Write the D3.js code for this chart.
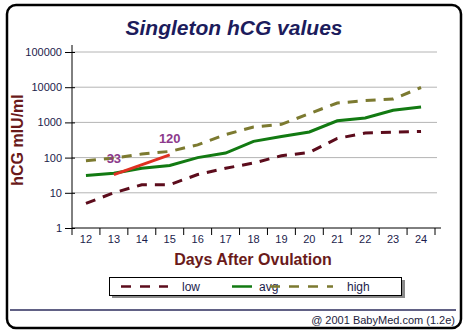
<!DOCTYPE html>
<html>
<head>
<meta charset="utf-8">
<script src="https://cdn.jsdelivr.net/npm/d3@7"></script>
<style>
  body { margin: 0; background: #fff; }
  svg { display: block; font-family: "Liberation Sans", Arial, sans-serif; }
</style>
</head>
<body>
<div id="chart"></div>
<script>
const days = [12, 13, 14, 15, 16, 17, 18, 19, 20, 21, 22, 23, 24];
const low  = [5, 10, 17, 17, 33, 50, 70, 113, 140, 350, 500, 530, 550];
const avg  = [31, 36, 50, 60, 100, 135, 290, 400, 535, 1110, 1330, 2200, 2750];
const high = [81, 97, 126, 150, 230, 450, 740, 880, 1780, 3550, 4150, 4600, 9800];
const userDays = [13, 15];
const userValues = [33, 120];
const yTicks = [1, 10, 100, 1000, 10000, 100000];

const W = 466, H = 333;
const plot = { left: 72, right: 435, top: 52, bottom: 228 };

const svg = d3.select("#chart").append("svg")
    .attr("width", W)
    .attr("height", H);

// outer frame
svg.append("rect")
    .attr("x", 7).attr("y", 5)
    .attr("width", 454).attr("height", 323)
    .attr("rx", 9)
    .attr("fill", "#fff")
    .attr("stroke", "#000")
    .attr("stroke-width", 2.5);

svg.append("text")
    .attr("x", 234).attr("y", 35)
    .attr("text-anchor", "middle")
    .style("font-size", "21px")
    .style("font-weight", "bold")
    .style("font-style", "italic")
    .attr("fill", "#1c1c5c")
    .text("Singleton hCG values");

const x = d3.scaleBand().domain(days).range([plot.left, plot.right]);
const y = d3.scaleLog().domain([1, 100000]).range([plot.bottom, plot.top]);
const cx = d => x(d) + x.bandwidth() / 2;

// grid
svg.append("g")
    .selectAll("line")
    .data(yTicks.slice(1))
    .join("line")
    .attr("x1", plot.left).attr("x2", plot.right + 2)
    .attr("y1", d => y(d)).attr("y2", d => y(d))
    .attr("stroke", "#b4b4b4")
    .attr("stroke-width", 1);

// y axis
const yAxis = svg.append("g")
    .attr("transform", `translate(${plot.left},0)`)
    .call(d3.axisLeft(y).tickValues(yTicks).tickFormat(d3.format("d")).tickSize(7).tickPadding(3));
yAxis.select(".domain").attr("d", `M0,${plot.top - 7}V${plot.bottom}`).attr("stroke", "#000");
yAxis.selectAll(".tick line").attr("x2", -7).attr("x1", 3);
yAxis.selectAll("text").style("font-size", "11px").attr("fill", "#1c1c4c");

// x axis
const xAxis = svg.append("g")
    .attr("transform", `translate(0,${plot.bottom})`)
    .call(d3.axisBottom(x).tickSize(0).tickPadding(7));
xAxis.select(".domain").attr("d", `M${plot.left},0H${plot.right + 6}`).attr("stroke", "#000");
xAxis.selectAll("text").style("font-size", "11px").attr("fill", "#1c1c4c");
xAxis.selectAll("line.edge")
    .data(days.map(d => x(d)).concat([plot.right]))
    .join("line")
    .attr("class", "edge")
    .attr("x1", d => d).attr("x2", d => d)
    .attr("y1", 0).attr("y2", 7)
    .attr("stroke", "#000");

svg.append("text")
    .attr("x", 253).attr("y", 265)
    .attr("text-anchor", "middle")
    .style("font-size", "16px")
    .style("font-weight", "bold")
    .attr("fill", "#6a1a1a")
    .text("Days After Ovulation");

svg.append("text")
    .attr("transform", "translate(23,140) rotate(-90)")
    .attr("text-anchor", "middle")
    .style("font-size", "16px")
    .style("font-weight", "bold")
    .attr("fill", "#6a1a1a")
    .text("hCG mIU/ml");

// series
const line = d3.line().x((d, i) => cx(days[i])).y(d => y(d));
const series = [
    { name: "low", values: low, color: "#5c0c1c", dash: "10,8" },
    { name: "high", values: high, color: "#7c7a30", dash: "10,8" },
    { name: "avg", values: avg, color: "#127a12", dash: null }
];

svg.append("g")
    .selectAll("path")
    .data(series)
    .join("path")
    .attr("d", s => line(s.values))
    .attr("fill", "none")
    .attr("stroke", s => s.color)
    .attr("stroke-width", 3)
    .attr("stroke-dasharray", s => s.dash);

// user values
const userLine = d3.line().x((d, i) => cx(userDays[i])).y(d => y(d));
svg.append("path")
    .attr("d", userLine(userValues))
    .attr("fill", "none")
    .attr("stroke", "#e03022")
    .attr("stroke-width", 3);

svg.append("g")
    .selectAll("text")
    .data(userValues)
    .join("text")
    .attr("x", (d, i) => cx(userDays[i]))
    .attr("y", d => y(d) - 12)
    .attr("text-anchor", "middle")
    .style("font-size", "13px")
    .style("font-weight", "bold")
    .attr("fill", "#8c3a8c")
    .text(d => d);

// legend
const lg = svg.append("g");
lg.append("rect")
    .attr("x", 112).attr("y", 280)
    .attr("width", 293).attr("height", 18)
    .attr("fill", "#8a8a8a");
lg.append("rect")
    .attr("x", 109.5).attr("y", 277.5)
    .attr("width", 292).attr("height", 18)
    .attr("fill", "#fff")
    .attr("stroke", "#000")
    .attr("stroke-width", 1);

const legendItems = [
    { s: series[0], x1: 121, x2: 168, tx: 182 },
    { s: series[2], x1: 232, x2: 252, tx: 259 },
    { s: series[1], x1: 270, x2: 333, tx: 347 }
];
legendItems.forEach(it => {
    lg.append("line")
        .attr("x1", it.x1).attr("x2", it.x2)
        .attr("y1", 286.5).attr("y2", 286.5)
        .attr("stroke", it.s.color)
        .attr("stroke-width", 2.5)
        .attr("stroke-dasharray", it.s.dash ? "10,9" : null);
    lg.append("text")
        .attr("x", it.tx).attr("y", 291)
        .style("font-size", "12px")
        .attr("fill", "#1c1c4c")
        .text(it.s.name);
});

// footer
svg.append("line")
    .attr("x1", 10).attr("x2", 456)
    .attr("y1", 310).attr("y2", 310)
    .attr("stroke", "#2c2c5c")
    .attr("stroke-width", 1.5);

svg.append("text")
    .attr("x", 455).attr("y", 324)
    .attr("text-anchor", "end")
    .style("font-size", "11px")
    .attr("fill", "#1c1c3c")
    .text("@ 2001 BabyMed.com (1.2e)");
</script>
</body>
</html>
